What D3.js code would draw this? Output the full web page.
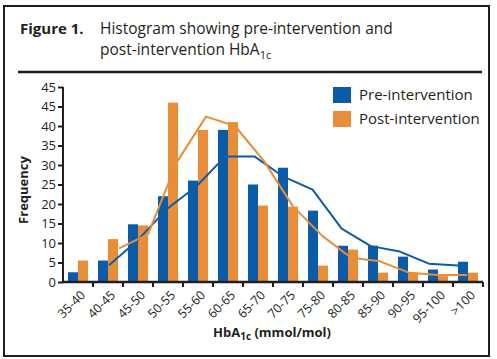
<!DOCTYPE html>
<html><head><meta charset="utf-8">
<script src="https://cdn.jsdelivr.net/npm/d3@7"></script>
<style>body{margin:0;background:#fff}svg{display:block}text{font-family:"Open Sans",sans-serif;fill:#231f20}</style>
</head><body>
<script>
const categories = ["35-40","40-45","45-50","50-55","55-60","60-65","65-70","70-75","75-80","80-85","85-90","90-95","95-100",">100"];
const preValues  = [2.5,5.5,14.8,22,26,39,25,29.3,18.3,9.3,9.3,6.5,3.2,5.2];
const postValues = [5.5,11,14.5,46,39,41,19.6,19.3,4.2,8.3,2.4,2.4,1.5,2.4];
const trendCategories = categories.slice(1);
const preTrend  = [4.3,10.8,18.8,24.5,32.2,32.2,27,23.7,13.7,9.2,7.8,4.7,4.2];
const postTrend = [8.6,12.2,30.8,42.4,40,31,19.4,11.9,6.2,5.3,2.4,1.8,1.8];
const yTickValues = [0,5,10,15,20,25,30,35,40,45,50];
const yTickLabels = ["0","5","10","15","20","25","30","35","40","45","45"];
const seriesNames = ["Pre-intervention","Post-intervention"];
const colors = ["#0b5ca8","#e98d38"];

const W=497,H=359;
const svg=d3.select("body").append("svg").attr("width",W).attr("height",H);
const ink="#231f20";

// frame
svg.append("rect").attr("x",4).attr("y",6).attr("width",485).attr("height",350)
  .attr("fill","none").attr("stroke",ink).attr("stroke-width",2);
svg.append("line").attr("x1",18).attr("x2",482).attr("y1",72).attr("y2",72).attr("stroke",ink).attr("stroke-width",2.5);

// title
svg.append("text").attr("x",20).attr("y",34).attr("font-size",15).attr("font-weight","bold").text("Figure 1.");
svg.append("text").attr("x",100).attr("y",34).attr("font-size",15.5).text("Histogram showing pre-intervention and");
const t2=svg.append("text").attr("x",100).attr("y",55).attr("font-size",15.5).text("post-intervention HbA");
t2.append("tspan").attr("font-size",11).attr("dy",4).text("1c");

const x=d3.scaleBand().domain(categories).range([63,483]).padding(0);
const sub=d3.scaleBand().domain([0,1]).range([x.bandwidth()/6,x.bandwidth()*5/6]).padding(0);
const y=d3.scaleLinear().domain([0,50]).range([282,87]);

// bars
[preValues,postValues].forEach((vals,si)=>{
  svg.append("g").selectAll("rect").data(vals).join("rect")
    .attr("x",(d,i)=>x(categories[i])+sub(si))
    .attr("width",sub.bandwidth())
    .attr("y",d=>y(d)).attr("height",d=>y(0)-y(d))
    .attr("fill",colors[si]);
});

// trend lines
const xt0=d3.scalePoint().domain(trendCategories).range([x(trendCategories[0])+x.bandwidth()/2+1, x(">100")+x.bandwidth()/2-10]);
const xt1=d3.scalePoint().domain(trendCategories).range([x(trendCategories[0])+x.bandwidth()/2+11, x(">100")+x.bandwidth()/2-1]);
[[preTrend,xt0],[postTrend,xt1]].forEach(([vals,xs],si)=>{
  svg.append("path").datum(vals)
    .attr("d",d3.line().x((d,i)=>xs(trendCategories[i])).y(d=>y(d)))
    .attr("fill","none").attr("stroke",colors[si]).attr("stroke-width",2).attr("stroke-linejoin","round");
});

// y axis
const ya=svg.append("g").attr("transform","translate(63,0)")
  .call(d3.axisLeft(y).tickValues(yTickValues).tickFormat((d,i)=>yTickLabels[i]).tickSize(5).tickPadding(2));
ya.select(".domain").attr("stroke",ink).attr("stroke-width",2).attr("d","M0,282V87");
ya.selectAll(".tick line").attr("stroke",ink).attr("stroke-width",2);
ya.selectAll(".tick text").attr("font-size",13).attr("font-family","'Open Sans',sans-serif").attr("fill",ink);

// x axis
const xa=svg.append("g").attr("transform","translate(0,282)");
xa.append("line").attr("x1",62).attr("x2",483).attr("y1",0).attr("y2",0).attr("stroke",ink).attr("stroke-width",2.5);
xa.selectAll(".xt").data(categories.slice(1).concat(["__end"])).join("line")
  .attr("x1",(d,i)=>x(categories[i])+x.bandwidth()).attr("x2",(d,i)=>x(categories[i])+x.bandwidth())
  .attr("y1",0).attr("y2",5).attr("stroke",ink).attr("stroke-width",2);
xa.selectAll("text").data(categories).join("text")
  .attr("transform",d=>`translate(${x(d)+x.bandwidth()/2+8},${14}) rotate(-45)`)
  .attr("text-anchor","end").attr("font-size",12.5).text(d=>d);

// axis titles
const xt=svg.append("text").attr("x",272).attr("y",337).attr("text-anchor","middle").attr("font-size",13).attr("font-weight","bold").text("HbA");
xt.append("tspan").attr("font-size",10).attr("dy",3).text("1c");
xt.append("tspan").attr("dy",-3).text(" (mmol/mol)");
svg.append("text").attr("transform","translate(28,190) rotate(-90)").attr("text-anchor","middle")
  .attr("font-size",13).attr("font-weight","bold").text("Frequency");

// legend
seriesNames.forEach((n,i)=>{
  const g=svg.append("g").attr("transform",`translate(333,${87+i*24})`);
  g.append("rect").attr("width",18).attr("height",16).attr("fill",colors[i]);
  g.append("text").attr("x",26).attr("y",13).attr("font-size",15).text(n);
});
</script>
</body></html>
